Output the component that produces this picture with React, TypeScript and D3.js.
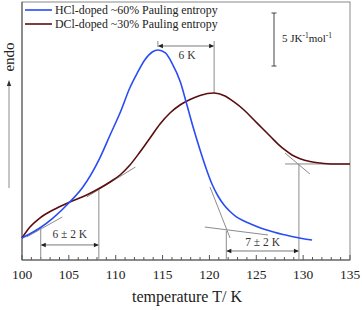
import React from "react";
import * as d3 from "d3";

// HCl-doped (blue) curve: temperature (K) and signal (J K^-1 mol^-1, arbitrary offset)
const hclT = [100.0, 101.9, 103.3, 105.1, 106.5, 108.3, 109.4, 110.5, 111.5, 112.3, 113.1, 113.9, 114.5, 115.3, 116.0, 116.9, 117.6, 118.35, 119.0, 119.63, 120.27, 120.91, 121.56, 122.2, 122.84, 123.69, 124.54, 125.61, 126.68, 127.74, 128.81, 129.88, 130.95];
const hclV = [2.08, 3.02, 3.96, 5.47, 6.89, 9.62, 11.79, 13.96, 16.23, 17.64, 18.87, 19.62, 19.81, 19.53, 18.58, 16.79, 14.62, 12.26, 10.38, 8.68, 7.17, 6.04, 5.19, 4.58, 4.1, 3.68, 3.35, 2.97, 2.69, 2.43, 2.22, 2.03, 1.89];

// DCl-doped (brown) curve
const dclT = [100.0, 100.85, 101.9, 103.3, 105.1, 106.9, 108.32, 109.39, 110.46, 111.52, 112.59, 113.66, 114.73, 115.79, 116.86, 117.93, 118.99, 120.49, 121.66, 122.62, 123.69, 124.76, 125.61, 126.57, 127.32, 128.06, 128.81, 129.67, 130.73, 131.8, 133.19, 135.0];
const dclV = [2.08, 3.11, 3.96, 4.72, 5.47, 6.13, 6.79, 7.36, 8.02, 8.96, 10.19, 11.51, 12.83, 13.87, 14.62, 15.14, 15.52, 15.75, 15.47, 14.91, 14.15, 13.21, 12.45, 11.6, 10.94, 10.38, 9.91, 9.56, 9.29, 9.15, 9.06, 9.06];

// tangent construction lines [T1, v1, T2, v2]
const tangents = [
  [100.5, 2.17, 104.3, 4.06],
  [106.9, 5.94, 112.1, 8.77],
  [120.06, 6.89, 122.2, 2.08],
  [119.5, 3.11, 126.25, 2.36],
  [128.07, 10.09, 130.73, 8.11],
  [128.07, 9.06, 135.0, 9.06],
];

// interval annotations: [T1, vTop1, T2, vTop2, vArrow, label, vLabel]
const intervals: [number, number, number, number, number, string, number][] = [
  [102.0, 3.0, 108.2, 6.79, 1.42, "6 ± 2 K", 2.1],
  [121.8, 2.75, 129.55, 9.06, 0.85, "7 ± 2 K", 1.3],
];

const peakHcl = 114.5;
const peakDcl = 120.5;
const peakVHcl = 19.81;
const peakVDcl = 15.75;

const xTicks = [100, 105, 110, 115, 120, 125, 130, 135];
const legendLabels = ["HCl-doped ~60% Pauling entropy", "DCl-doped ~30% Pauling entropy"];
const colors = ["#2a4cf5", "#5c0d0d"];

export default function App() {
  const W = 362, H = 310;
  const x = d3.scaleLinear().domain([100, 135]).range([22, 350]);
  const y = d3.scaleLinear().domain([0, 24.34]).range([260, 2]);
  const line = d3
    .line<[number, number]>()
    .x((d) => x(d[0]))
    .y((d) => y(d[1]))
    .curve(d3.curveMonotoneX);
  const hcl = hclT.map((t, i) => [t, hclV[i]] as [number, number]);
  const dcl = dclT.map((t, i) => [t, dclV[i]] as [number, number]);
  const minor = d3.range(100, 136, 1);
  const gray = "#8c8c8c";
  const font = "'Liberation Serif', 'DejaVu Serif', serif";
  const txt = "#222";

  const arrowH = (x1: number, x2: number, yy: number, key: string) => (
    <g key={key}>
      <line x1={x1 + 1} x2={x2 - 1} y1={yy} y2={yy} stroke="#555" strokeWidth={0.8} />
      <path d={`M${x1},${yy} l5,-2.2 l0,4.4 z`} fill="#222" />
      <path d={`M${x2},${yy} l-5,-2.2 l0,4.4 z`} fill="#222" />
    </g>
  );

  return (
    <svg width={W} height={H} style={{ display: "block", position: "absolute", left: 0, top: 0 }} fontFamily={font}>
      <rect x={0} y={0} width={W} height={H} fill="#fff" />
      {/* frame */}
      <rect x={22} y={2} width={328} height={258} fill="none" stroke="#8a8a8a" strokeWidth={1} />
      <line x1={22} x2={350} y1={260} y2={260} stroke="#555" strokeWidth={1} />
      <line x1={22} x2={22} y1={2} y2={260} stroke="#555" strokeWidth={1} />
      {/* ticks */}
      {minor.map((t) => (
        <line key={t} x1={x(t)} x2={x(t)} y1={260} y2={t % 5 === 0 ? 255 : 257} stroke="#555" strokeWidth={1} />
      ))}
      {xTicks.map((t) => (
        <text key={t} x={x(t)} y={279} fontSize={13.5} textAnchor="middle" fill={txt}>
          {t}
        </text>
      ))}
      <text x={187} y={302} fontSize={16} textAnchor="middle" fill={txt}>
        temperature T/ K
      </text>
      {/* y label and arrow */}
      <text transform="translate(14,57) rotate(-90)" fontSize={15} textAnchor="middle" fill={txt}>
        endo
      </text>
      <line x1={9} x2={9} y1={86} y2={188} stroke={gray} strokeWidth={1} />
      <path d="M9,80 l-2.2,6 l4.4,0 z" fill="#333" />

      {/* tangent lines */}
      {tangents.map((t, i) => (
        <line key={i} x1={x(t[0])} y1={y(t[1])} x2={x(t[2])} y2={y(t[3])} stroke={gray} strokeWidth={1} />
      ))}

      {/* intervals */}
      {intervals.map((iv, i) => (
        <g key={i}>
          <line x1={x(iv[0])} x2={x(iv[0])} y1={y(iv[1])} y2={260} stroke={gray} strokeWidth={1} />
          <line x1={x(iv[2])} x2={x(iv[2])} y1={y(iv[3])} y2={260} stroke={gray} strokeWidth={1} />
          {arrowH(x(iv[0]), x(iv[2]), y(iv[4]), "a" + i)}
          <text x={(x(iv[0]) + x(iv[2])) / 2} y={y(iv[6])} fontSize={11.5} textAnchor="middle" fill="#333">
            {iv[5]}
          </text>
        </g>
      ))}

      {/* peak shift */}
      <line x1={x(peakHcl)} x2={x(peakHcl)} y1={y(20.66)} y2={y(peakVHcl) - 3} stroke={gray} strokeWidth={1} />
      <line x1={x(peakDcl)} x2={x(peakDcl)} y1={y(20.66)} y2={y(peakVDcl)} stroke={gray} strokeWidth={1} />
      {arrowH(x(peakHcl), x(peakDcl), y(20.19), "pk")}
      <text x={(x(peakHcl) + x(peakDcl)) / 2 + 1} y={y(19.0)} fontSize={11.5} textAnchor="middle" fill="#333">
        6 K
      </text>

      {/* curves */}
      <path d={line(dcl) || ""} fill="none" stroke={colors[1]} strokeWidth={1.6} />
      <path d={line(hcl) || ""} fill="none" stroke={colors[0]} strokeWidth={1.6} />

      {/* legend */}
      {legendLabels.map((l, i) => (
        <g key={l}>
          <line x1={25} x2={52} y1={10 + i * 14} y2={10 + i * 14} stroke={colors[i]} strokeWidth={1.6} />
          <text x={55} y={14 + i * 14} fontSize={11.9} fill={txt}>
            {l}
          </text>
        </g>
      ))}

      {/* scale bar */}
      <line x1={274} x2={274} y1={13} y2={66} stroke="#444" strokeWidth={1} />
      <line x1={271.5} x2={276.5} y1={13} y2={13} stroke="#444" strokeWidth={1} />
      <line x1={271.5} x2={276.5} y1={66} y2={66} stroke="#444" strokeWidth={1} />
      <text x={282} y={42} fontSize={11} fill={txt}>
        5 JK
        <tspan fontSize={7.5} dy={-4}>-1</tspan>
        <tspan dy={4}>mol</tspan>
        <tspan fontSize={7.5} dy={-4}>-1</tspan>
      </text>
    </svg>
  );
}
